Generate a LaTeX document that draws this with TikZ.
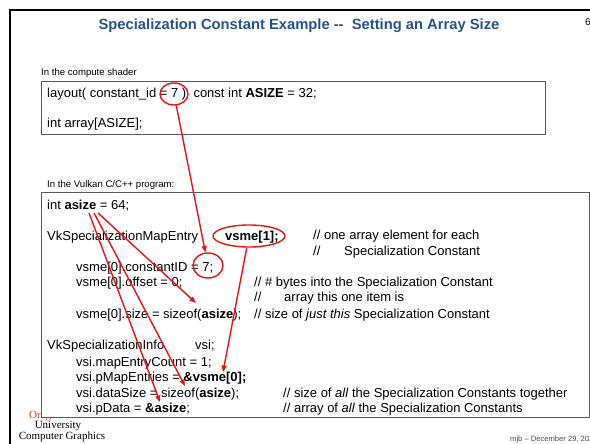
\documentclass[tikz,border=0pt]{standalone}
\usepackage{fontspec}
\setmainfont{Liberation Sans}
\newfontfamily\logofont{Liberation Serif}
\usetikzlibrary{arrows.meta,shapes.geometric}
\definecolor{titleblue}{RGB}{38,84,133}
\definecolor{osuorange}{RGB}{215,63,9}
\definecolor{markred}{RGB}{235,20,20}
\begin{document}
\begin{tikzpicture}[x=1pt,y=-1pt,
  code/.style={anchor=base west,inner sep=0pt,font=\fontsize{13}{15}\selectfont},
  caption/.style={anchor=base west,inner sep=0pt,font=\fontsize{9.6}{11}\selectfont},
  codebox/.style={draw=black!65,line width=0.8pt,fill=white,anchor=north west,inner sep=0pt},
  hoop/.style={draw=markred,line width=1.4pt,ellipse,inner sep=0pt},
  link/.style={draw=markred,line width=1.4pt,-{Triangle[length=6.5pt,width=5pt]}},
  logo/.style={inner sep=0pt,font=\logofont\fontsize{11}{12}\selectfont},
]
\useasboundingbox (0,0) rectangle (590,444);

% slide frame
\draw[line width=2.6pt] (10,444) -- (10,10) -- (590,10);

% heading and page number
\node[font=\fontsize{14.75}{17}\selectfont\bfseries,text=titleblue] (title) at (299,25.5)
  {Specialization Constant Example -{}-\ \ Setting an Array Size};
\node[anchor=west,inner sep=0pt,font=\fontsize{10}{12}\selectfont] (pageno) at (585,22) {6};

% shader side
\node[caption] (lblshader) at (41,76) {In the compute shader};
\node[codebox,minimum width=504,minimum height=53] (shaderbox) at (41,81) {};
\node[code] (sh1) at (47,97.5) {layout( constant\_id = 7 )\ \ const int \textbf{ASIZE} = 32;};
\node[code] (sh2) at (47,128) {int array[ASIZE];};
\node[hoop,minimum width=28,minimum height=22] (hoopid) at (174,94) {};

% logo, partly hidden by the program box
\node[logo,anchor=base west,text=osuorange] (osu) at (29,418) {Oregon State};
\node[logo] (univ) at (58,426) {University};
\node[logo] (cg) at (62,436.5) {Computer Graphics};

% program side
\node[caption] (lblvk) at (47,187.5) {In the Vulkan C/C++ program:};
\node[codebox,minimum width=547.5,minimum height=225] (progbox) at (41,192) {};

\node[code] (p1) at (47,209) {int \textbf{asize} = 64;};
\node[code] (p2) at (47,240.5) {VkSpecializationMapEntry};
\node[code] (p2b) at (225,240.5) {\textbf{vsme[1];}};
\node[code] (c2) at (313,240) {// one array element for each};
\node[code] (c3) at (313,255.5) {//};
\node[code] (c3b) at (344,255.5) {Specialization Constant};
\node[code] (p3) at (76,271.5) {vsme[0].constantID = 7;};
\node[code] (p4) at (76,286.5) {vsme[0].offset = 0;};
\node[code] (c4) at (254,286.5) {// \# bytes into the Specialization Constant};
\node[code] (c5) at (254,301.5) {//};
\node[code] (c5b) at (284,301.5) {array this one item is};
\node[code] (p5) at (76,318.5) {vsme[0].size = sizeof(\textbf{asize});};
\node[code] (c6) at (254,318.5) {// size of \textit{just this} Specialization Constant};

\node[code] (p6) at (47,349.5) {VkSpecializationInfo};
\node[code] (p6b) at (195,349.5) {vsi;};
\node[code] (p7) at (76,366.5) {vsi.mapEntryCount = 1;};
\node[code] (p8) at (76,381.5) {vsi.pMapEntries = \textbf{\&vsme[0];}};
\node[code] (p9) at (76,397.5) {vsi.dataSize = sizeof(\textbf{asize});};
\node[code] (c9) at (283,397.5) {// size of \textit{all} the Specialization Constants together};
\node[code] (p10) at (76,412.5) {vsi.pData = \textbf{\&asize};};
\node[code] (c10) at (283,412.5) {// array of \textit{all} the Specialization Constants};

% red markings
\node[hoop,minimum width=30,minimum height=25] (hoopseven) at (208,265.5) {};
\node[hoop,minimum width=72,minimum height=22] (hoopvsme) at (249,236) {};

\coordinate (asizeA) at (89,213);
\coordinate (asizeB) at (94,213);
\coordinate (asizeC) at (98,213);
\coordinate (toPData) at (160,402);
\coordinate (toDataSize) at (185,386);
\coordinate (toSize) at (196,303);
\coordinate (toEntries) at (223,372);

\draw[link] (hoopid) -- (hoopseven);
\draw[link] (hoopvsme) -- (toEntries);
\draw[link] (asizeA) -- (toPData);
\draw[link] (asizeB) -- (toDataSize);
\draw[link] (asizeC) -- (toSize);

% footer
\node[anchor=base west,inner sep=0pt,font=\fontsize{7.6}{9}\selectfont,text=black!70] (footer)
  at (510,441) {mjb – December 29, 2023};
\end{tikzpicture}
\end{document}
